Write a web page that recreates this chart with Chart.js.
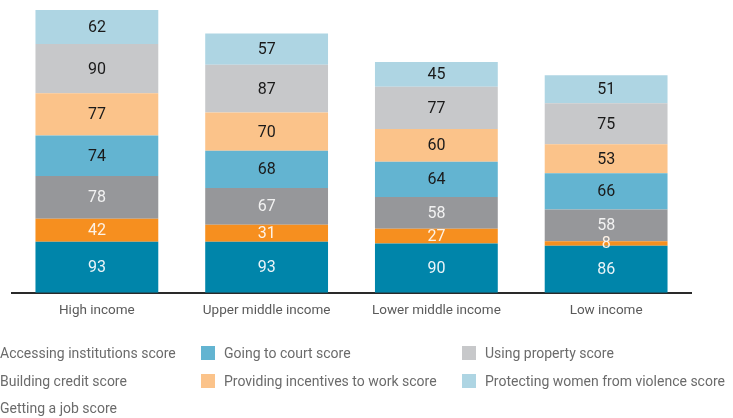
<!DOCTYPE html>
<html>
<head>
<meta charset="utf-8">
<script src="https://cdn.jsdelivr.net/npm/chart.js@4/dist/chart.umd.min.js"></script>
<style>
  body { margin: 0; background: #fff; overflow: hidden; }
  #wrap { position: relative; width: 733px; height: 418px; }
  #legend { position: absolute; left: 0; top: 0; width: 733px; height: 418px; pointer-events: none;
    font-family: Roboto, "DejaVu Sans Condensed", sans-serif; font-size: 14px; color: #6b6b6b; }
  .item { position: absolute; display: flex; align-items: center; white-space: nowrap; height: 20px; }
  .box { width: 14px; height: 14px; margin-right: 9px; }
</style>
</head>
<body>
<div id="wrap">
  <canvas id="chart" width="733" height="418"></canvas>
  <div id="legend"></div>
</div>
<script>
// Income groups
const categories = ["High income", "Upper middle income", "Lower middle income", "Low income"];

// Series, bottom of the stack first
const accessing = [93, 93, 90, 86];
const buildingCredit = [42, 31, 27, 8];
const gettingJob = [78, 67, 58, 58];
const goingToCourt = [74, 68, 64, 66];
const incentives = [77, 70, 60, 53];
const usingProperty = [90, 87, 77, 75];
const protectingWomen = [62, 57, 45, 51];

const seriesNames = [
  "Accessing institutions score",
  "Building credit score",
  "Getting a job score",
  "Going to court score",
  "Providing incentives to work score",
  "Using property score",
  "Protecting women from violence score"
];
const seriesData = [accessing, buildingCredit, gettingJob, goingToCourt, incentives, usingProperty, protectingWomen];
const colors = ["#0085aa", "#f68f1f", "#96979a", "#63b4d1", "#fbc38a", "#c7c8ca", "#aed5e3"];
const labelColors = ["#eaf4f8", "#fdf2e6", "#f2f2f2", "#1a1a1a", "#1a1a1a", "#1a1a1a", "#1a1a1a"];

const fontFamily = 'Roboto, "DejaVu Sans Condensed", sans-serif';

// draws the value in the middle of each segment
const segmentLabels = {
  id: 'segmentLabels',
  afterDatasetsDraw(chart) {
    const ctx = chart.ctx;
    ctx.save();
    ctx.font = '16px ' + fontFamily;
    ctx.textAlign = 'center';
    ctx.textBaseline = 'middle';
    chart.data.datasets.forEach((ds, i) => {
      chart.getDatasetMeta(i).data.forEach((bar, j) => {
        ctx.fillStyle = labelColors[i];
        ctx.fillText(ds.data[j], bar.x, (bar.y + bar.base) / 2 + 1);
      });
    });
    ctx.restore();
  }
};

const chart = new Chart(document.getElementById('chart'), {
  type: 'bar',
  data: {
    labels: categories,
    datasets: seriesNames.map((name, i) => ({
      label: name,
      data: seriesData[i],
      backgroundColor: colors[i],
      borderWidth: 0,
      categoryPercentage: 1,
      barPercentage: 0.7235
    }))
  },
  options: {
    responsive: false,
    animation: false,
    layout: { padding: { left: 12, right: 42, top: 10, bottom: 89 } },
    plugins: { legend: { display: false }, tooltip: { enabled: false } },
    scales: {
      x: {
        stacked: true,
        grid: { display: false, drawTicks: false },
        border: { display: true, color: '#2a2a2a', width: 2 },
        ticks: { color: '#5a5a5a', padding: 10, font: { family: fontFamily, size: 13.5 } }
      },
      y: {
        stacked: true,
        display: false,
        min: 0,
        max: 516
      }
    }
  },
  plugins: [segmentLabels]
});

// legend: three columns (3, 2, 2 items), first column's swatches sit off the left edge
const legend = document.getElementById('legend');
const legendCol = [0, 0, 0, 1, 1, 2, 2];
const legendRow = [0, 1, 2, 0, 1, 0, 1];
const colLeft = [-23, 201, 462];
const rowTop = [343, 371, 398];
seriesNames.forEach((name, i) => {
  const item = document.createElement('div');
  item.className = 'item';
  item.style.left = colLeft[legendCol[i]] + 'px';
  item.style.top = rowTop[legendRow[i]] + 'px';
  item.innerHTML = '<span class="box" style="background:' + colors[i] + '"></span><span>' + name + '</span>';
  legend.appendChild(item);
});
</script>
</body>
</html>
